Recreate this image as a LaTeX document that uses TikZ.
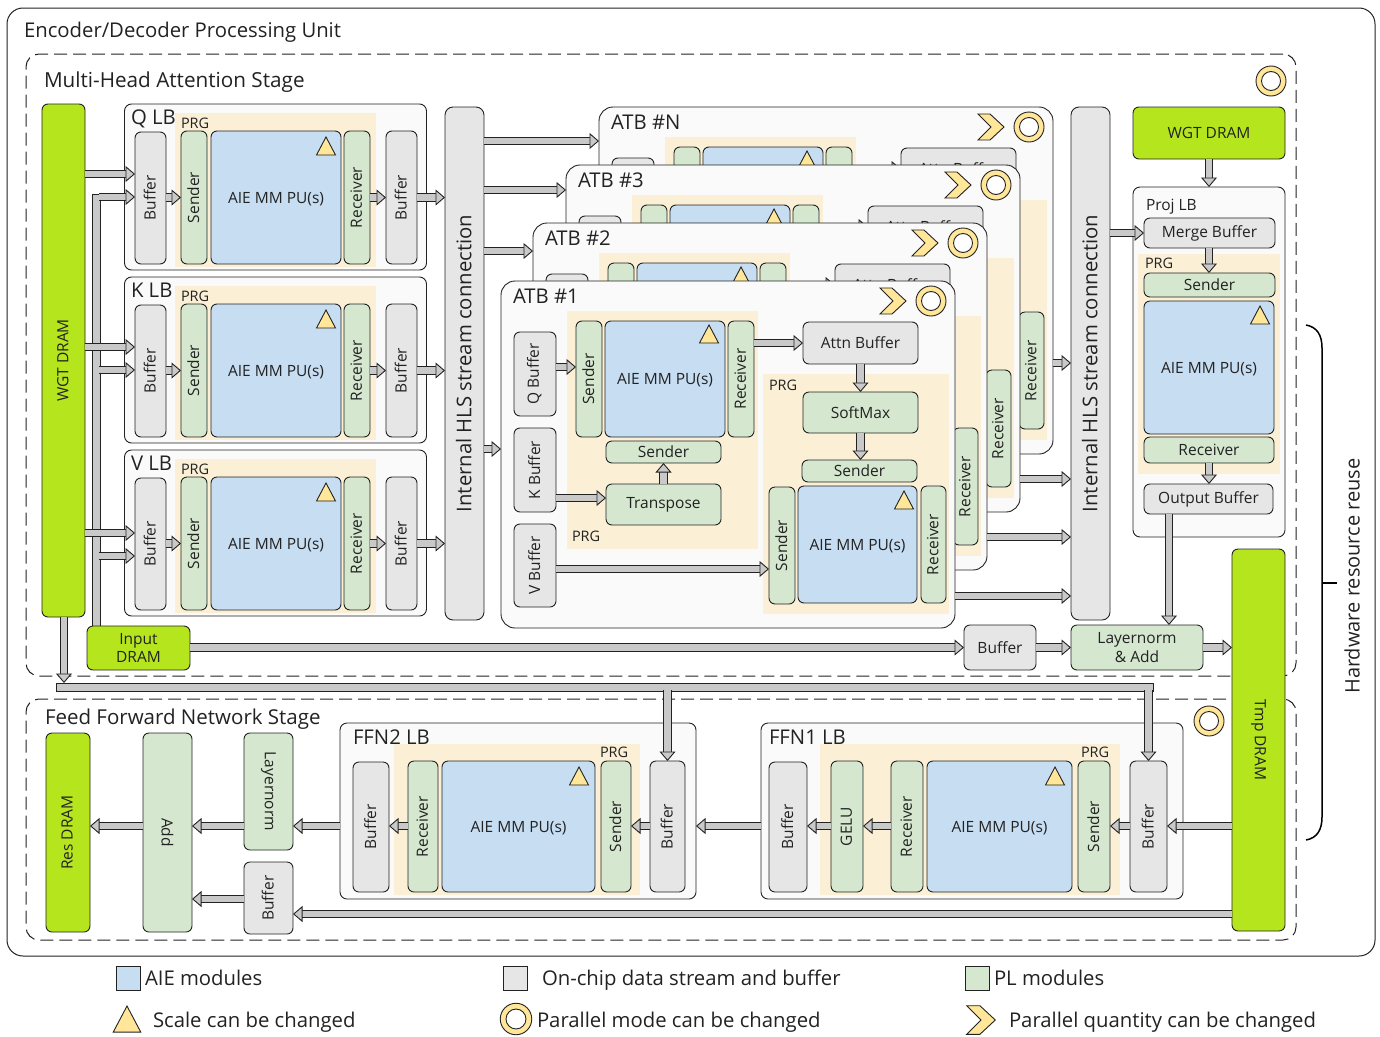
\documentclass[tikz,border=0pt]{standalone}
\usepackage{fontspec}
\setmainfont{Open Sans}
\usetikzlibrary{arrows.meta, positioning, calc}
\definecolor{limegrn}{HTML}{B5E61D}
\definecolor{aieblue}{HTML}{C6DDF2}
\definecolor{plgreen}{HTML}{D5E8CF}
\definecolor{bufgray}{HTML}{E6E6E6}
\definecolor{prgbeige}{HTML}{FBF0D6}
\definecolor{markyel}{HTML}{FFE699}
\definecolor{lbwhite}{HTML}{FAFAFA}
\definecolor{arrowgray}{HTML}{C9C9C9}
\definecolor{inkdark}{HTML}{222222}
\newcommand{\sz}[1]{\fontsize{#1}{#1}\selectfont}
\newcommand{\vt}[1]{\rotatebox{90}{#1}\hspace{1.5pt}}
\newcommand{\dt}[1]{\rotatebox{-90}{#1}}
\tikzset{
  wh/.style 2 args={minimum width=#1pt, minimum height=#2pt},
  modbox/.style={draw=inkdark, line width=.9pt, rounded corners=6pt, anchor=north west, inner sep=0pt, outer sep=0pt, align=center, text=inkdark, font=\sz{15.5}},
  aiebox/.style={modbox, fill=aieblue, text depth=0pt},
  plbox/.style={modbox, fill=plgreen},
  bufbox/.style={modbox, fill=bufgray},
  drambox/.style={modbox, fill=limegrn},
  lbbox/.style={modbox, fill=lbwhite, rounded corners=7pt},
  atbbox/.style={modbox, fill=lbwhite, rounded corners=14pt},
  hlsbox/.style={modbox, fill=bufgray, rounded corners=8pt, font=\sz{20.3}},
  prgbg/.style={anchor=north west, inner sep=0pt, outer sep=0pt, fill=prgbeige},
  stage/.style={draw=inkdark, line width=1pt, dash pattern=on 13pt off 6pt, rounded corners=13pt, anchor=north west, inner sep=0pt, outer sep=0pt},
  busbar/.style={anchor=north west, inner sep=0pt, outer sep=0pt, draw=inkdark, line width=.9pt, fill=arrowgray},
  title/.style={anchor=west, inner sep=0pt, outer sep=0pt, text height=18pt, text depth=4pt, text=inkdark, font=\sz{20.3}},
  prgtext/.style={anchor=west, inner sep=0pt, outer sep=0pt, text=inkdark, font=\sz{14.5}},
  fat/.style={draw=inkdark, line width=.9pt, double=arrowgray, double distance=6.5pt,
    -{Triangle[length=9.5pt, width=16pt, fill=arrowgray]}},
  scalemark/.pic={\draw[draw=inkdark, line width=.9pt, fill=markyel] (-9.5,18) -- (0,0) -- (9.5,18) -- cycle;},
  ringmark/.pic={\draw[draw=inkdark, line width=.9pt, fill=markyel] (0,0) circle (15);
    \draw[draw=inkdark, line width=.9pt, fill=white] (0,0) circle (9.5);},
  qtymark/.pic={\draw[draw=inkdark, line width=.9pt, fill=markyel, line join=miter] (-13,-13) -- (-1,-13) -- (13,0) -- (-1,13) -- (-13,13) -- (0,0) -- cycle;},
}
\begin{document}
\begin{tikzpicture}[x=1pt, y=-1pt]
  \useasboundingbox (0,0) rectangle (1380,1036);
  % frames
  \node[modbox, wh={1368}{948}, rounded corners=16pt, line width=1pt] (outer) at (7,8) {};
  \node[title] (outertitle) at (24,30) {Encoder/Decoder Processing Unit};
  \node[stage, wh={1270}{622}] (mhstage) at (26,54) {};
  \node[title, font=\sz{20.7}] (mhtitle) at (44,80) {Multi-Head Attention Stage};
  \node[stage, wh={1270}{241}] (ffstage) at (26,699) {};
  \node[title, font=\sz{20.5}] (fftitle) at (45,717) {Feed Forward Network Stage};
  \pic at (1271,81) {ringmark};
  \pic at (1209,721) {ringmark};

  % left side
  \node[drambox, wh={43}{513}] (wgtl) at (42,104) {\vt{WGT DRAM}};
  \node[busbar, wh={8}{432}] (inbar) at (92,194) {};
  \node[drambox, wh={103}{44}] (indram) at (87,626) {Input\\[3pt]DRAM};
  \node[hlsbox, wh={39}{513}] (hlsl) at (445,107) {\vt{Internal HLS stream connection}};
  \node[hlsbox, wh={39}{513}] (hlsr) at (1071,107) {\vt{Internal HLS stream connection}};

  % Q, K and V load blocks
  \foreach \tg/\lbl/\yy/\ya/\yb in {q/Q LB/0/174/197, k/K LB/173/347/370, v/V LB/346/533/556} {
    \begin{scope}[shift={(0,\yy)}]
      \node[lbbox, wh={302}{166}] (lb\tg) at (124.5,104) {};
      \node[prgbg, wh={201}{154}] (prg\tg) at (175,113) {};
      \node[title] (lbt\tg) at (131,117) {\lbl};
      \node[prgtext] (prgt\tg) at (181,123) {PRG};
      \node[bufbox, wh={31}{132}] (bufi\tg) at (135,132) {\vt{Buffer}};
      \node[plbox, wh={26}{133}] (snd\tg) at (181,131) {\vt{Sender}};
      \node[aiebox, wh={130}{133}] (aie\tg) at (211,131) {AIE MM PU(s)};
      \node[plbox, wh={26}{133}] (rcv\tg) at (344,131) {\vt{Receiver}};
      \node[bufbox, wh={31}{133}] (bufo\tg) at (386,131) {\vt{Buffer}};
      \pic at (326,137) {scalemark};
      \draw[fat] (bufi\tg.east |- snd\tg) -- (snd\tg.west);
      \draw[fat] (rcv\tg.east) -- (bufo\tg.west);
      \draw[fat] (bufo\tg.east) -- (hlsl.west |- bufo\tg.east);
    \end{scope}
    \draw[fat] (wgtl.east |- 0,\ya) -- (bufi\tg.west |- 0,\ya);
    \draw[fat, shorten <=-.9pt] (inbar.east |- 0,\yb) -- (bufi\tg.west |- 0,\yb);
  }

  % ATB stack: back layers show only what sticks out
  \foreach \tg/\dx/\dy in {N/98/-174, 3/65/-116, 2/32/-58} {
    \begin{scope}[shift={(\dx,\dy)}]
      \node[atbbox, wh={454}{347}] (atb\tg) at (501,281) {};
      \node[title] (atbt\tg) at (513,296) {ATB \#\tg};
      \pic at (893,301) {qtymark};
      \pic at (931,301) {ringmark};
      \node[prgbg, wh={191}{238}] (prga\tg) at (567,311) {};
      \node[prgbg, wh={186}{240}] (prgb\tg) at (763,374) {};
      \node[bufbox, wh={42}{84}] (qb\tg) at (514,332) {};
      \node[plbox, wh={26}{116}] (snda\tg) at (576,321) {};
      \node[aiebox, wh={120}{116}] (aiea\tg) at (605,321) {};
      \node[plbox, wh={26}{116}] (rcva\tg) at (728,321) {};
      \pic at (709,325) {scalemark};
      \node[bufbox, wh={115}{42}] (attn\tg) at (803,322) {Attn Buffer};
      \node[plbox, wh={25}{117}] (rcvb\tg) at (921,486) {\vt{Receiver}};
      \draw[fat] (rcva\tg.east |- 0,343) -- (attn\tg.west |- 0,343);
    \end{scope}
  }

  % ATB #1 in front
  \node[atbbox, wh={454}{347}] (atb1) at (501,281) {};
  \node[title] (atbt1) at (513,296) {ATB \#1};
  \pic at (893,301) {qtymark};
  \pic at (931,301) {ringmark};
  \node[prgbg, wh={191}{238}] (prga1) at (567,311) {};
  \node[prgbg, wh={186}{240}] (prgb1) at (763,374) {};
  \node[prgtext] (prgat1) at (572,536) {PRG};
  \node[prgtext] (prgbt1) at (769,385) {PRG};
  \node[bufbox, wh={42}{84}] (qb1) at (514,332) {\vt{Q Buffer}};
  \node[bufbox, wh={42}{84}] (kb1) at (514,428) {\vt{K Buffer}};
  \node[bufbox, wh={42}{83}] (vb1) at (514,524) {\vt{V Buffer}};
  \node[plbox, wh={26}{116}] (snda1) at (576,321) {\vt{Sender}};
  \node[aiebox, wh={120}{116}] (aiea1) at (605,321) {AIE MM PU(s)};
  \node[plbox, wh={26}{116}] (rcva1) at (728,321) {\vt{Receiver}};
  \pic at (709,325) {scalemark};
  \node[plbox, wh={115}{22}] (sndh1) at (606,441) {Sender};
  \node[plbox, wh={115}{41}] (trans1) at (606,484) {Transpose};
  \node[bufbox, wh={115}{42}] (attn1) at (803,322) {Attn Buffer};
  \node[plbox, wh={115}{41}] (soft1) at (803,392) {SoftMax};
  \node[plbox, wh={115}{22}] (sndm1) at (802,460) {Sender};
  \node[plbox, wh={26}{117}] (sndb1) at (769,487) {\vt{Sender}};
  \node[aiebox, wh={119}{117}] (aieb1) at (798,486) {AIE MM PU(s)};
  \node[plbox, wh={25}{117}] (rcvb1) at (921,486) {\vt{Receiver}};
  \pic at (904,491) {scalemark};
  \draw[fat] (qb1.east |- 0,367) -- (snda1.west |- 0,367);
  \draw[fat] (rcva1.east |- 0,343) -- (attn1.west |- 0,343);
  \draw[fat] (attn1.south) -- (soft1.north);
  \draw[fat] (soft1.south) -- (soft1.south |- sndm1.north);
  \draw[fat] (kb1.east |- 0,498) -- (trans1.west |- 0,498);
  \draw[fat] (trans1.north) -- (sndh1.south);
  \draw[fat] (vb1.east |- 0,569) -- (sndb1.west |- 0,569);

  % to and from the stream connections
  \foreach \tg/\yi/\yo in {N/141/363, 3/190/479, 2/251/537, 1/449/596} {
    \draw[fat] (hlsl.east |- 0,\yi) -- (atb\tg.west |- 0,\yi);
    \draw[fat] (atb\tg.east |- 0,\yo) -- (hlsr.west |- 0,\yo);
  }

  % projection block
  \node[drambox, wh={152}{52}] (wgtr) at (1133,107) {WGT DRAM};
  \node[lbbox, wh={152}{350}] (projlb) at (1133,187) {};
  \node[prgbg, wh={142}{220}] (projprg) at (1138,254) {};
  \node[title, font=\sz{15.5}, text height=14pt] (projt) at (1146,205) {Proj LB};
  \node[prgtext] (projp) at (1145,263) {PRG};
  \node[bufbox, wh={131}{30}] (merge) at (1144,218) {Merge Buffer};
  \node[plbox, wh={131}{24}] (projs) at (1144,273) {Sender};
  \node[aiebox, wh={130}{133}] (proja) at (1144,301) {AIE MM PU(s)};
  \pic at (1260,306) {scalemark};
  \node[plbox, wh={130}{26}] (projr) at (1144,437) {Receiver};
  \node[bufbox, wh={129}{30}] (outbuf) at (1144,484) {Output Buffer};
  \node[bufbox, wh={72}{45}] (addbuf) at (964,625) {Buffer};
  \node[plbox, wh={132}{45}] (lnadd) at (1071,625) {Layernorm\\[3pt]\& Add};
  \node[drambox, wh={53}{382}] (tmpd) at (1232,549) {\dt{Tmp DRAM}};
  \coordinate (wgtpt) at (1209,0);
  \draw[fat] (wgtr.south -| wgtpt) -- (projlb.north -| wgtpt);
  \draw[fat] (hlsr.east |- merge) -- (merge.west);
  \draw[fat] (merge.south -| wgtpt) -- (projs.north -| wgtpt);
  \draw[fat] (projr.south -| wgtpt) -- (outbuf.north -| wgtpt);
  \draw[fat] (outbuf.south -| 1169,0) -- (lnadd.north -| 1169,0);
  \draw[fat] (indram.east |- addbuf) -- (addbuf.west);
  \draw[fat] (addbuf.east) -- (lnadd.west);
  \draw[fat] (lnadd.east) -- (tmpd.west |- lnadd);

  % bus to the feed forward stage
  \node[busbar, wh={1097}{8}] (bus) at (56,683) {};
  \draw[fat] (wgtl.south -| 64,0) -- (bus.north -| 64,0);

  % feed forward stage
  \node[drambox, wh={44}{199}] (resd) at (46,733) {\vt{Res DRAM}};
  \node[plbox, wh={49}{199}] (addb) at (143,733) {\dt{Add}};
  \node[plbox, wh={49}{117}] (lnorm) at (244,733) {\dt{Layernorm}};
  \node[bufbox, wh={49}{72}] (ffbuf) at (244,862) {\vt{Buffer}};
  \node[lbbox, wh={356}{176}] (ffn2) at (340,723) {};
  \node[prgbg, wh={246}{151}] (ffn2p) at (394,744) {};
  \node[title] (ffn2t) at (353,737) {FFN2 LB};
  \node[prgtext] (ffn2r) at (600,752) {PRG};
  \node[bufbox, wh={36}{130}] (f2bo) at (353,762) {\vt{Buffer}};
  \node[plbox, wh={30}{131}] (f2rc) at (408,761) {\vt{Receiver}};
  \node[aiebox, wh={153}{131}] (f2ai) at (442,761) {AIE MM PU(s)};
  \pic at (579,767) {scalemark};
  \node[plbox, wh={30}{131}] (f2sn) at (601,761) {\vt{Sender}};
  \node[bufbox, wh={35}{131}] (f2bi) at (650,761) {\vt{Buffer}};
  \node[lbbox, wh={422}{176}] (ffn1) at (761,723) {};
  \node[prgbg, wh={300}{151}] (ffn1p) at (820,744) {};
  \node[title] (ffn1t) at (769,737) {FFN1 LB};
  \node[prgtext] (ffn1r) at (1081,752) {PRG};
  \node[bufbox, wh={38}{130}] (f1bo) at (769,762) {\vt{Buffer}};
  \node[plbox, wh={32}{131}] (f1ge) at (831,761) {\vt{GELU}};
  \node[plbox, wh={32}{131}] (f1rc) at (891,761) {\vt{Receiver}};
  \node[aiebox, wh={145}{131}] (f1ai) at (927,761) {AIE MM PU(s)};
  \pic at (1055,767) {scalemark};
  \node[plbox, wh={32}{131}] (f1sn) at (1078,761) {\vt{Sender}};
  \node[bufbox, wh={37}{131}] (f1bi) at (1130,761) {\vt{Buffer}};
  \coordinate (ffy) at (0,826);
  \draw[fat, shorten <=-.9pt] (bus.south -| f2bi) -- (f2bi.north);
  \draw[fat, shorten <=-.9pt] (bus.south -| f1bi) -- (f1bi.north);
  \draw[fat] (tmpd.west |- ffy) -- (f1bi.east |- ffy);
  \draw[fat] (f1bi.west |- ffy) -- (f1sn.east |- ffy);
  \draw[fat] (f1rc.west |- ffy) -- (f1ge.east |- ffy);
  \draw[fat] (f1ge.west |- ffy) -- (f1bo.east |- ffy);
  \draw[fat] (ffn1.west |- ffy) -- (ffn2.east |- ffy);
  \draw[fat] (f2bi.west |- ffy) -- (f2sn.east |- ffy);
  \draw[fat] (f2rc.west |- ffy) -- (f2bo.east |- ffy);
  \draw[fat] (ffn2.west |- ffy) -- (lnorm.east |- ffy);
  \draw[fat] (lnorm.west |- ffy) -- (addb.east |- ffy);
  \draw[fat] (addb.west |- ffy) -- (resd.east |- ffy);
  \draw[fat] (tmpd.west |- 0,914) -- (ffbuf.east |- 0,914);
  \draw[fat] (ffbuf.west |- 0,899) -- (addb.east |- 0,899);

  % hardware reuse bracket
  \coordinate (brtop) at (1306,325);
  \coordinate (brbot) at (1306,840);
  \draw[draw=black, line width=1.5pt] (brtop) .. controls (1317,327) and (1322,335) .. (1322,348) -- (1322,817) .. controls (1322,830) and (1317,838) .. (brbot);
  \draw[draw=black, line width=1.5pt] (1322,583) -- (1337,583);
  \node[prgtext, anchor=center, font=\sz{20}] (reuse) at (1352,576) {\vt{Hardware resource reuse}};

  % legend
  \node[aiebox, wh={24}{24}, rounded corners=0pt] (legaie) at (116,966) {};
  \node[title] (legaiet) at (145,978) {AIE modules};
  \node[bufbox, wh={24}{24}, rounded corners=0pt] (legbuf) at (503,966) {};
  \node[title] (legbuft) at (542,978) {On-chip data stream and buffer};
  \node[plbox, wh={24}{24}, rounded corners=0pt] (legpl) at (965,966) {};
  \node[title] (legplt) at (994,978) {PL modules};
  \pic[scale=1.45] at (127,1006) {scalemark};
  \node[title] (legsc) at (153,1020) {Scale can be changed};
  \pic[scale=1.05] at (516,1019) {ringmark};
  \node[title] (legrg) at (537,1020) {Parallel mode can be changed};
  \pic[scale=1.1] at (981,1020) {qtymark};
  \node[title] (legqt) at (1009,1020) {Parallel quantity can be changed};
\end{tikzpicture}
\end{document}
